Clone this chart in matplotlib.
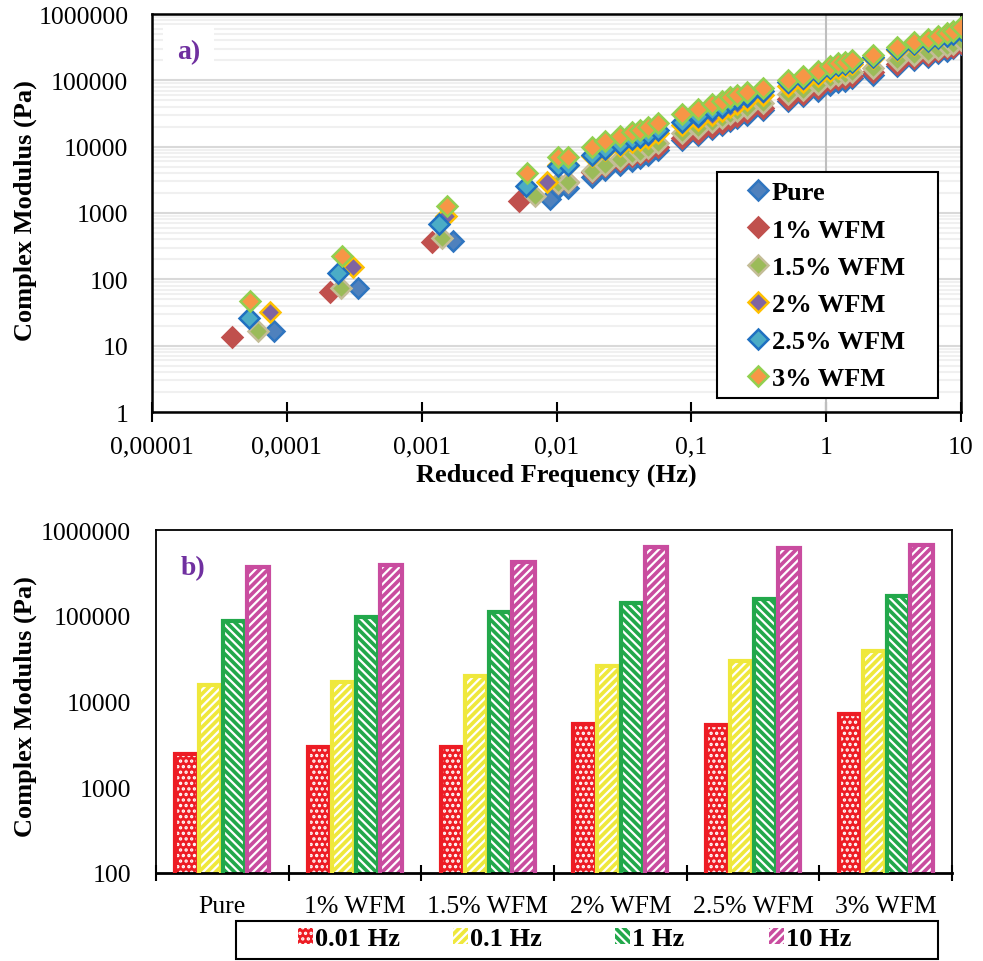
import numpy as np
import matplotlib
matplotlib.use("Agg")
import matplotlib.pyplot as plt
from matplotlib.patches import Patch, Rectangle

plt.rcParams['font.family'] = ['Liberation Serif', 'DejaVu Serif']
plt.rcParams['hatch.linewidth'] = 1.6

# ---------- panel a) master curves ----------
series_names = ['Pure', '1% WFM', '1.5% WFM', '2% WFM', '2.5% WFM', '3% WFM']

# low-frequency clusters (Hz, Pa)
pure_low_f = [8.0e-5, 3.37e-4, 1.71e-3, 8.9e-3]
pure_low_g = [16.6, 74, 380, 1630]
wfm1_low_f = [3.9e-5, 2.09e-4, 1.19e-3, 5.3e-3]
wfm1_low_g = [13.5, 65, 366, 1520]
wfm15_low_f = [6.1e-5, 2.52e-4, 1.41e-3, 6.9e-3]
wfm15_low_g = [16.6, 74, 421, 1810]
wfm2_low_f = [7.5e-5, 3.1e-4, 1.51e-3, 8.5e-3]
wfm2_low_g = [32, 154, 904, 2950]
wfm25_low_f = [5.25e-5, 2.4e-4, 1.35e-3, 5.96e-3]
wfm25_low_g = [26, 125, 685, 2570]
wfm3_low_f = [5.3e-5, 2.57e-4, 1.55e-3, 6.05e-3]
wfm3_low_g = [47, 225, 1280, 4030]

# dense part of the curves
dense_f = [0.0103, 0.0122, 0.0184, 0.023, 0.0295, 0.036, 0.0415, 0.048, 0.0568,
           0.0855, 0.112, 0.1425, 0.17, 0.195, 0.219, 0.26, 0.341, 0.523, 0.676,
           0.871, 1.07, 1.23, 1.38, 1.56, 2.23, 3.37, 4.5, 5.7, 6.77, 7.9, 8.7, 10]
pure_g = [2380, 2410, 3500, 4390, 5370, 6180, 6800, 7560, 8930, 12400, 15200, 18600,
          21100, 24600, 27000, 30200, 35400, 49000, 57300, 69000, 84700, 95200, 98800,
          108000, 121500, 165000, 202000, 224000, 254000, 281000, 306000, 358000]
wfm1_g = [2870, 2910, 4200, 5120, 6090, 7180, 7700, 8560, 9850, 13300, 16300, 19900,
          22500, 26300, 28800, 32800, 38500, 53000, 62000, 75900, 96300, 106000, 110000,
          118000, 134000, 178000, 217000, 241000, 273000, 302000, 323000, 371000]
wfm15_g = [2870, 2910, 4300, 5370, 6530, 7680, 8410, 9550, 11200, 15800, 19200, 23900,
           27000, 31400, 34200, 38900, 45400, 62200, 72500, 88300, 108000, 119000, 125000,
           135000, 156000, 200000, 240000, 266000, 296000, 328000, 351000, 403000]
wfm2_g = [5320, 5330, 7300, 8780, 10300, 11700, 12500, 13700, 15800, 21100, 25200, 30500,
          34300, 40300, 44400, 50900, 60100, 81600, 95900, 115000, 139000, 156000, 163000,
          177000, 214000, 283000, 343000, 385000, 432000, 478000, 518000, 595000]
wfm25_g = [5180, 5250, 7500, 9270, 11000, 12900, 13800, 15300, 17600, 23900, 28900, 35400,
           40200, 47000, 51600, 59000, 69300, 92800, 108000, 128000, 154000, 170000, 177000,
           190000, 226000, 296000, 351000, 389000, 432000, 473000, 507000, 582000]
wfm3_g = [7000, 7100, 10000, 12200, 14500, 16700, 17900, 19900, 22900, 31000, 37000, 44200,
          49000, 56000, 60000, 67000, 77000, 102000, 117000, 138000, 166000, 183000, 190000,
          204000, 243000, 318000, 381000, 423000, 470000, 520000, 557000, 640000]

marker_face = ['#4F81BD', '#C0504D', '#9BBB59', '#8064A2', '#4BACC6', '#F79646']
marker_edge = ['#2F75C0', '#C0504D', '#C4BD97', '#FFC000', '#1F70C1', '#92D050']

xtick_vals = [1e-5, 1e-4, 1e-3, 1e-2, 1e-1, 1, 10]
xtick_labels = ['0,00001', '0,0001', '0,001', '0,01', '0,1', '1', '10']
ytick_vals_a = [1, 10, 100, 1000, 10000, 100000, 1000000]

# ---------- panel b) bars ----------
materials = ['Pure', '1% WFM', '1.5% WFM', '2% WFM', '2.5% WFM', '3% WFM']
freq_labels = ['0.01 Hz', '0.1 Hz', '1 Hz', '10 Hz']
g_001 = [2440, 2940, 2940, 5470, 5320, 7210]
g_01 = [15700, 16700, 20000, 26200, 29700, 38500]
g_1 = [86100, 97500, 110000, 142000, 158000, 169000]
g_10 = [367000, 394000, 424000, 628000, 617000, 675000]
bar_colors = ['#ED1C24', '#EFE83C', '#22A84B', '#C94C9F']
bar_hatch = ['...', '////', '\\\\\\\\', '////']
ytick_vals_b = [100, 1000, 10000, 100000, 1000000]

purple = '#7030A0'
W, H = 983, 962

fig = plt.figure(figsize=(9.83, 9.62), dpi=100)
ax1 = fig.add_axes([152 / W, 1 - 413 / H, 809 / W, 398 / H])
ax2 = fig.add_axes([156 / W, 1 - 874 / H, 796 / W, 343 / H])

# ---- panel a
ax1.set_xscale('log')
ax1.set_yscale('log')
ax1.set_xlim(1e-5, 10)
ax1.set_ylim(1, 1e6)
ax1.yaxis.grid(True, which='major', color='#D9D9D9', lw=1.5)
ax1.yaxis.grid(True, which='minor', color='#F0F0F0', lw=1.5)
ax1.set_axisbelow(True)
ax1.axvline(1, color='#BFBFBF', lw=1.5, zorder=1.5)

low_f = [pure_low_f, wfm1_low_f, wfm15_low_f, wfm2_low_f, wfm25_low_f, wfm3_low_f]
low_g = [pure_low_g, wfm1_low_g, wfm15_low_g, wfm2_low_g, wfm25_low_g, wfm3_low_g]
dense_g = [pure_g, wfm1_g, wfm15_g, wfm2_g, wfm25_g, wfm3_g]
for i, name in enumerate(series_names):
    x = low_f[i] + dense_f
    y = low_g[i] + dense_g[i]
    ax1.plot(x, y, ls='none', marker='D', ms=10, mfc=marker_face[i],
             mec=marker_edge[i], mew=1.8, label=name, zorder=3 + i)

ax1.set_xticks(xtick_vals, labels=xtick_labels)
ax1.set_yticks(ytick_vals_a, labels=[str(v) for v in ytick_vals_a])
ax1.xaxis.set_minor_locator(matplotlib.ticker.NullLocator())
ax1.tick_params(axis='x', which='major', direction='inout', length=14, width=1.5,
                labelsize=18.5, pad=10)
ax1.tick_params(axis='y', which='major', length=0, labelsize=18.5, pad=17)
ax1.tick_params(axis='y', which='minor', length=0)
for sp in ax1.spines.values():
    sp.set_linewidth(1.8)

ax1.text(0.045, 0.905, 'a)', transform=ax1.transAxes, color=purple, fontsize=20,
         fontweight='bold', ha='center', va='center',
         bbox=dict(facecolor='white', edgecolor='none', pad=10), zorder=10)

# legend of panel a: frame drawn separately so the padding matches
ax1.add_patch(Rectangle(((717 - 152) / 809, (413 - 399) / 398), 221 / 809, 226 / 398,
                        transform=ax1.transAxes, facecolor='white', edgecolor='black',
                        lw=1.5, zorder=19))
leg1 = ax1.legend(loc='upper left', bbox_to_anchor=((740 - 152) / 809, (413 - 182) / 398),
                  prop={'weight': 'bold', 'size': 19}, numpoints=1, handlelength=1.4,
                  handletextpad=-0.2, labelspacing=0.52, borderpad=0, borderaxespad=0,
                  frameon=False)
leg1.set_zorder(20)

fig.text(25 / W, 1 - 211 / H, 'Complex Modulus (Pa)', rotation=90, ha='center', va='center',
         fontsize=19, fontweight='bold')
fig.text(556 / W, 1 - 475 / H, 'Reduced Frequency (Hz)', ha='center', va='center',
         fontsize=19, fontweight='bold')

# ---- panel b
ax2.set_yscale('log')
ax2.set_ylim(100, 1e6)
ax2.set_xlim(-0.5, len(materials) - 0.5)
idx = np.arange(len(materials))
bw = 0.18
bar_vals = [g_001, g_01, g_1, g_10]
for j, vals in enumerate(bar_vals):
    xpos = idx + (j - 1.5) * bw
    ax2.bar(xpos, vals, width=bw * 0.93, bottom=0, color=bar_colors[j], edgecolor='white',
            hatch=bar_hatch[j], linewidth=0, zorder=2)
    ax2.bar(xpos, vals, width=bw * 0.93, bottom=0, fill=False, edgecolor=bar_colors[j],
            linewidth=3, zorder=3)

ax2.set_xticks(np.arange(len(materials) + 1) - 0.5)
ax2.set_xticklabels([])
ax2.set_xticks(idx, minor=True)
ax2.set_xticklabels(materials, minor=True)
ax2.tick_params(axis='x', which='major', direction='inout', length=12, width=1.5)
ax2.tick_params(axis='x', which='minor', length=0, labelsize=18.5, pad=16)
ax2.set_yticks(ytick_vals_b, labels=[str(v) for v in ytick_vals_b])
ax2.tick_params(axis='y', which='major', length=0, labelsize=18.5, pad=18)
ax2.tick_params(axis='y', which='minor', length=0)
for sp in ax2.spines.values():
    sp.set_linewidth(1.3)
ax2.spines['bottom'].set_linewidth(2)

ax2.text(0.046, 0.889, 'b)', transform=ax2.transAxes, color=purple, fontsize=20,
         fontweight='bold', ha='center', va='center')

fig.text(25 / W, 1 - 707 / H, 'Complex Modulus (Pa)', rotation=90, ha='center', va='center',
         fontsize=19, fontweight='bold')

# bottom legend: box plus evenly spaced entries
fig.patches.append(Rectangle((236 / W, 2 / H), 702 / W, 38 / H, transform=fig.transFigure,
                             fill=False, edgecolor='black', lw=1.5))
entry_left = [298, 453, 615, 769]
for j in range(4):
    h = Patch(facecolor=bar_colors[j], edgecolor='white', hatch=bar_hatch[j], linewidth=0)
    fig.legend([h], [freq_labels[j]], loc='center left',
               bbox_to_anchor=(entry_left[j] / W, 22 / H), frameon=False,
               prop={'weight': 'bold', 'size': 19}, borderpad=0, borderaxespad=0,
               handlelength=0.55, handleheight=0.55, handletextpad=0.1)

fig.savefig('out.png', dpi=100)
